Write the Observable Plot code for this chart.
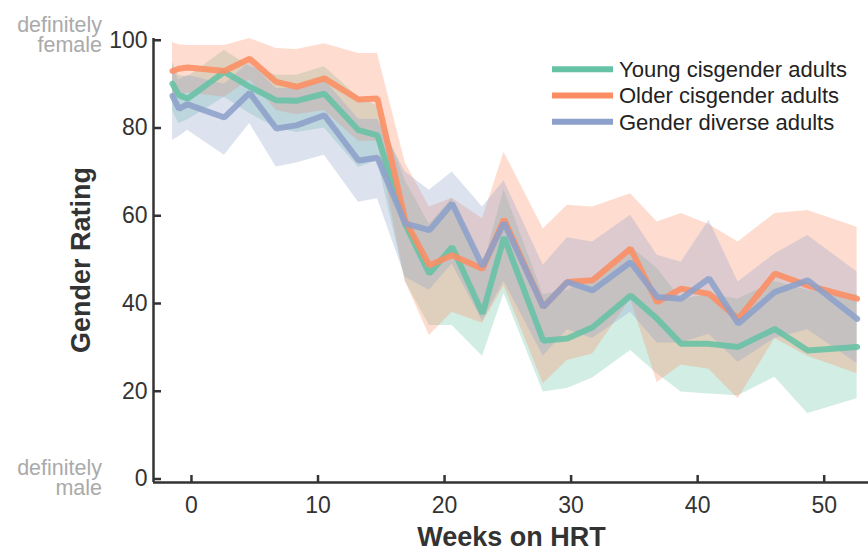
<!DOCTYPE html>
<html>
<head>
<meta charset="utf-8">
<script src="https://cdn.jsdelivr.net/npm/d3@7"></script>
<script src="https://cdn.jsdelivr.net/npm/@observablehq/plot@0.6"></script>
<style>
  html, body { margin: 0; padding: 0; background: #fff; }
  svg { display: block; }
</style>
</head>
<body>
<div id="chart"></div>
<script>
// ---------------- data ----------------
const weeks = [-1.5, -1, -0.3, 2.6, 4.6, 6.7, 8.3, 10.5, 13.2, 14.7, 16.9, 18.8, 20.6, 23.0, 24.7, 27.8, 29.7, 31.7, 34.7, 36.8, 38.7, 40.9, 43.2, 46.1, 48.7, 52.6];

const youngMean = [90.1, 87.5, 86.7, 92.8, 89.4, 86.3, 86.2, 87.8, 79.5, 78.3, 58, 46.8, 52.9, 37.7, 55.1, 31.5, 32, 34.6, 41.8, 36.5, 30.8, 30.8, 30.1, 34.2, 29.3, 30.1];
const youngLow  = [84, 81, 81.8, 87, 83.3, 80, 79, 80, 71, 72.6, 45, 35, 35, 28, 42.2, 19.8, 20.6, 23, 29.3, 24, 19.8, 19.4, 19, 23.2, 14.9, 18.3];
const youngHigh = [95, 92, 91.6, 97.7, 94, 92, 92, 94, 87, 85, 68, 58, 64, 48, 66, 42, 43, 46, 53, 48, 41, 42, 41, 45, 43, 42];

const olderMean = [93.0, 93.5, 93.8, 93.0, 95.8, 90.5, 89.4, 91.3, 86.5, 86.7, 58.9, 48.7, 51, 47.9, 59.2, 39.2, 44.9, 45.3, 52.5, 40.3, 43.4, 42.2, 36.5, 46.8, 44.1, 41.1];
const olderLow  = [87, 87, 88, 87, 91, 84, 83, 84, 77, 77, 45, 32.7, 38, 35.5, 44, 21.7, 27, 28.5, 41, 22, 26, 25, 18.3, 32, 28, 24];
const olderHigh = [99.5, 99, 98.8, 98.8, 100.4, 98.1, 97.9, 99.2, 97, 97, 72, 62, 64, 59.3, 74.5, 57, 62.4, 62, 65, 58.6, 60.5, 58, 54, 60.5, 61.2, 57.4];

const diverseMean = [87.3, 84.4, 85.4, 82.4, 88.0, 79.9, 80.6, 82.9, 72.6, 73.2, 58.2, 56.7, 62.8, 48.5, 58.4, 39.2, 44.9, 43, 49.4, 41.5, 41.1, 45.7, 35.4, 42.6, 45.3, 36.5];
const diverseLow  = [77.2, 78, 79.5, 73.8, 81, 71.1, 72, 73.8, 63.1, 63.9, 46, 43, 49, 36, 45, 28, 34, 32, 38, 31, 31, 33, 26.6, 32, 34, 26.3];
const diverseHigh = [94, 91, 92, 90, 95, 89, 89, 91, 82, 82, 70, 65.8, 70, 62, 68, 48.7, 55, 54, 60.1, 51, 49.4, 59, 44.9, 51.3, 55.5, 47.2];

const seriesNames = ["Young cisgender adults", "Older cisgender adults", "Gender diverse adults"];
const seriesColors = ["#66c2a5", "#fc8d62", "#8da0cb"];
const xTicks = [0, 10, 20, 30, 40, 50];
const yTicks = [0, 20, 40, 60, 80, 100];
const xLabel = "Weeks on HRT";
const yLabel = "Gender Rating";
const topNote = ["definitely", "female"];
const bottomNote = ["definitely", "male"];

// ---------------- table ----------------
const groups = [
  [youngMean, youngLow, youngHigh],
  [olderMean, olderLow, olderHigh],
  [diverseMean, diverseLow, diverseHigh]
];
const rows = [];
groups.forEach(([m, lo, hi], s) => {
  weeks.forEach((w, i) => rows.push({series: seriesNames[s], week: w, mean: m[i], low: lo[i], high: hi[i]}));
});

const xDomain = [-3, 53.5];
const yDomain = [-0.8, 100.4];
const axisColor = "#333";

const plot = Plot.plot({
  width: 868,
  height: 550,
  marginLeft: 153,
  marginRight: 0,
  marginTop: 38,
  marginBottom: 68,
  style: {fontFamily: "'Liberation Sans', Arial, sans-serif", color: axisColor, background: "#fff"},
  x: {domain: xDomain},
  y: {domain: yDomain},
  color: {domain: seriesNames, range: seriesColors},
  marks: [
    Plot.areaY(rows, {x: "week", y1: "low", y2: "high", z: "series", fill: "series", fillOpacity: 0.3, curve: "linear"}),
    Plot.lineY(rows, {x: "week", y: "mean", z: "series", stroke: "series", strokeWidth: 6, strokeOpacity: 0.88, strokeLinejoin: "miter"}),
    Plot.ruleX([xDomain[0]], {stroke: axisColor, strokeWidth: 2.5}),
    Plot.ruleY([yDomain[0]], {stroke: axisColor, strokeWidth: 2.5}),
    Plot.axisY(yTicks, {tickSize: -8, tickPadding: 14, fontSize: 23, strokeWidth: 2.5, label: null}),
    Plot.axisX(xTicks, {tickSize: -7, tickPadding: 21, fontSize: 23, strokeWidth: 2.5, label: null})
  ]
});

document.getElementById("chart").appendChild(plot);

// ---------------- annotations ----------------
const svg = d3.select(plot);
const xs = plot.scale("x");
const ys = plot.scale("y");
const font = "'Liberation Sans', Arial, sans-serif";

// axis titles
const xMid = (xs.range[0] + xs.range[1]) / 2;
svg.append("text")
  .attr("x", xMid + 1).attr("y", 546)
  .attr("text-anchor", "middle")
  .attr("font-family", font).attr("font-size", 27).attr("font-weight", "bold")
  .attr("fill", axisColor).text(xLabel);

const yMid = (ys.range[0] + ys.range[1]) / 2;
svg.append("text")
  .attr("transform", `translate(90,${yMid}) rotate(-90)`)
  .attr("text-anchor", "middle")
  .attr("font-family", font).attr("font-size", 27).attr("font-weight", "bold")
  .attr("fill", axisColor).text(yLabel);

// grey extremity notes
const noteX = 102;
const y100 = ys.apply(100), y0 = ys.apply(0);
[[topNote, y100 - 8], [bottomNote, y0 - 3]].forEach(([lines, base]) => {
  lines.forEach((t, i) => {
    svg.append("text")
      .attr("x", noteX).attr("y", base + i * 20)
      .attr("text-anchor", "end")
      .attr("font-family", font).attr("font-size", 21.5)
      .attr("fill", "#aaa").text(t);
  });
});

// legend
const legend = svg.append("g");
seriesNames.forEach((name, i) => {
  const ly = 69.3 + i * 26.2;
  legend.append("line")
    .attr("x1", 552).attr("x2", 613).attr("y1", ly).attr("y2", ly)
    .attr("stroke", seriesColors[i]).attr("stroke-width", 6);
  legend.append("text")
    .attr("x", 619).attr("y", ly).attr("dy", "0.36em")
    .attr("text-anchor", "start")
    .attr("font-family", font).attr("font-size", 22)
    .attr("fill", "#222").text(name);
});
</script>
</body>
</html>
